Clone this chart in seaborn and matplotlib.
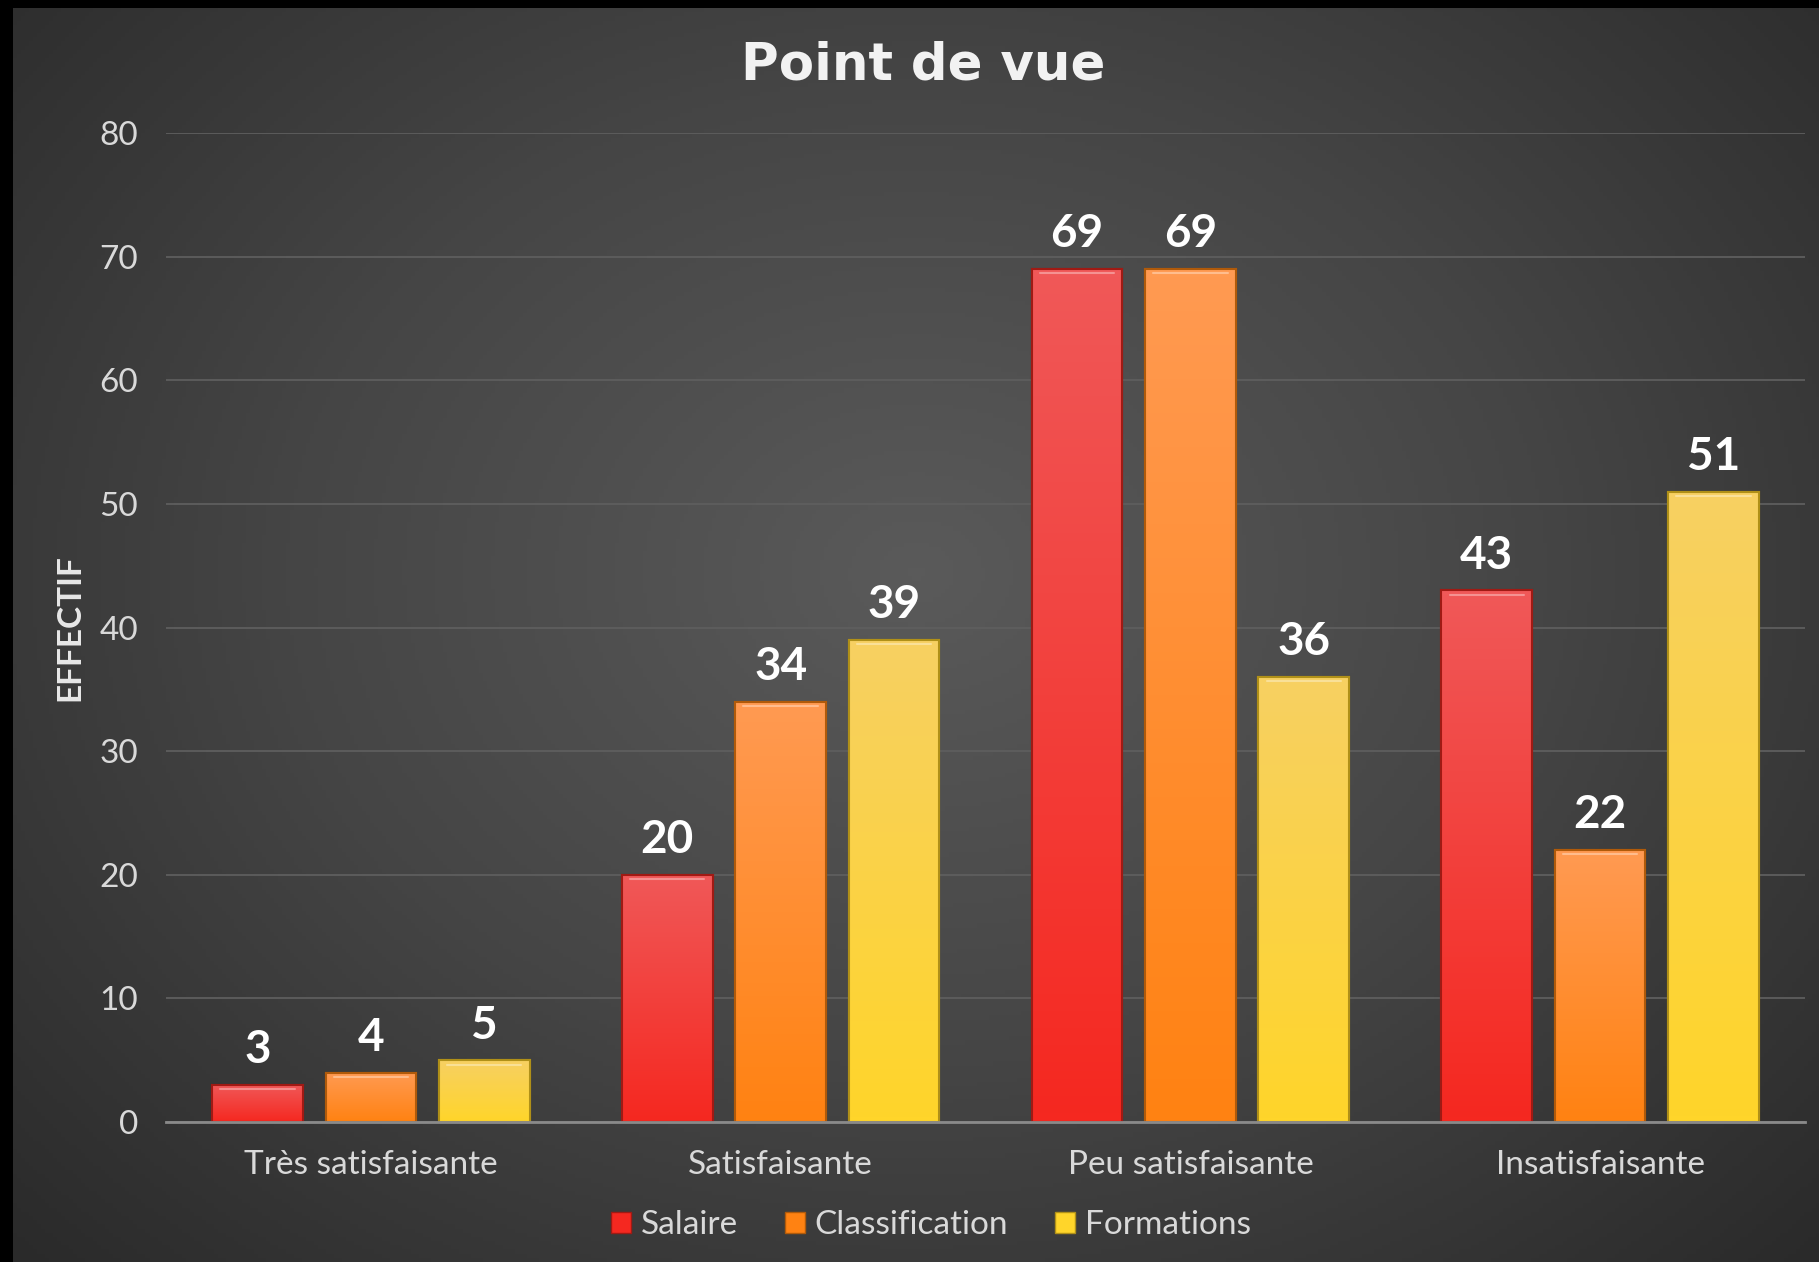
import numpy as np
import pandas as pd
import matplotlib.pyplot as plt
import seaborn as sns
from matplotlib.colors import LinearSegmentedColormap
from matplotlib.patches import Patch

# Données
categories = ["Très satisfaisante", "Satisfaisante", "Peu satisfaisante", "Insatisfaisante"]
series = ["Salaire", "Classification", "Formations"]
salaire = [3, 20, 69, 43]
classification = [4, 34, 69, 22]
formations = [5, 39, 36, 51]
yticks = [0, 10, 20, 30, 40, 50, 60, 70, 80]

df = pd.DataFrame({
    "categorie": categories * 3,
    "serie": [s for s in series for _ in categories],
    "effectif": salaire + classification + formations,
})

# couleurs (haut, bas) du dégradé de chaque série
couleurs = {
    "Salaire": ("#f05858", "#f52820"),
    "Classification": ("#ff9a52", "#ff8212"),
    "Formations": ("#f7d062", "#ffd52a"),
}
bords = {"Salaire": "#a01a14", "Classification": "#b05a0a", "Formations": "#b09018"}

W, H = 1819, 1262
sns.set_style("dark")
plt.rcParams["font.family"] = ["Lato", "DejaVu Sans"]

fig = plt.figure(figsize=(W / 100, H / 100), dpi=100, facecolor="black")

# fond : dégradé radial gris
bg = fig.add_axes([13 / W, 0, 1 - 13 / W, 1 - 8 / H])
yy, xx = np.mgrid[0:1:300j, 0:1:450j]
r = np.sqrt(((xx - 0.5) / 0.75) ** 2 + ((yy - 0.55) / 0.85) ** 2)
r = np.clip(r / r.max(), 0, 1)
bg_cmap = LinearSegmentedColormap.from_list("bg", ["#5a5a5a", "#454545", "#2a2a2a"])
bg.imshow(r, cmap=bg_cmap, extent=[0, 1, 0, 1], aspect="auto", origin="lower")
bg.axis("off")

ax = fig.add_axes([166 / W, 1 - 1122 / H, (1805 - 166) / W, (1122 - 133) / H])
ax.patch.set_alpha(0)

sns.barplot(data=df, x="categorie", y="effectif", hue="serie", order=categories,
            hue_order=series, palette={s: couleurs[s][1] for s in series},
            width=0.83, gap=0.2, legend=False, ax=ax)

# dégradé vertical dans chaque barre
n = len(categories)
for i, p in enumerate(ax.patches):
    s = series[i // n]
    x0, w, h = p.get_x(), p.get_width(), p.get_height()
    cm = LinearSegmentedColormap.from_list(s, [couleurs[s][1], couleurs[s][0]])
    grad = np.linspace(0, 1, 100).reshape(-1, 1)
    im = ax.imshow(grad, cmap=cm, extent=[x0, x0 + w, 0, h], origin="lower",
                   aspect="auto", zorder=p.get_zorder() + 0.1)
    im.set_clip_path(p)
    p.set_edgecolor(bords[s])
    p.set_linewidth(1.5)
    ax.bar(x0 + w / 2, h, width=w, bottom=0, fill=False, edgecolor=bords[s],
           linewidth=1.5, zorder=p.get_zorder() + 0.2)
    # reflet en haut de la barre
    ax.plot([x0 + 0.02, x0 + w - 0.02], [h - 0.35, h - 0.35], color="white",
            alpha=0.35, lw=1.5, zorder=p.get_zorder() + 0.3)
    ax.text(x0 + w / 2, h + 1.1, f"{int(h)}", ha="center", va="bottom",
            color="white", fontsize=33, fontweight="bold", zorder=5)

ax.set_xlim(-0.5, n - 0.5)
ax.set_ylim(0, 80)
ax.set_yticks(yticks)
ax.grid(axis="y", color="#5e5e5e", lw=1.3)
ax.set_axisbelow(True)
for sp in ["top", "right", "left"]:
    ax.spines[sp].set_visible(False)
ax.spines["bottom"].set_color("#8a8a8a")
ax.spines["bottom"].set_linewidth(2)
ax.spines["bottom"].set_zorder(6)
ax.tick_params(axis="both", length=0, colors="#d9d9d9", labelsize=24)
ax.tick_params(axis="y", pad=20)
ax.tick_params(axis="x", pad=20)
ax.set_xlabel("")
ax.set_ylabel("")

fig.text(70 / W, 1 - 628 / H, "EFFECTIF", rotation=90, ha="center", va="center",
         color="#e8e8e8", fontsize=24, fontweight="bold")
fig.text(923 / W, 1 - 66 / H, "Point de vue", ha="center", va="center",
         color="#f2f2f2", fontsize=37, fontweight="bold", family="DejaVu Sans")

handles = [Patch(facecolor=couleurs[s][1], edgecolor=bords[s], label=s) for s in series]
fig.legend(handles=handles, loc="center", bbox_to_anchor=(931 / W, 1 - 1225 / H), ncol=3,
           frameon=False, labelcolor="#d9d9d9", fontsize=24, handlelength=0.6,
           handleheight=0.6, handletextpad=0.3, columnspacing=1.4)

fig.savefig("out.png", dpi=100, facecolor="black")
